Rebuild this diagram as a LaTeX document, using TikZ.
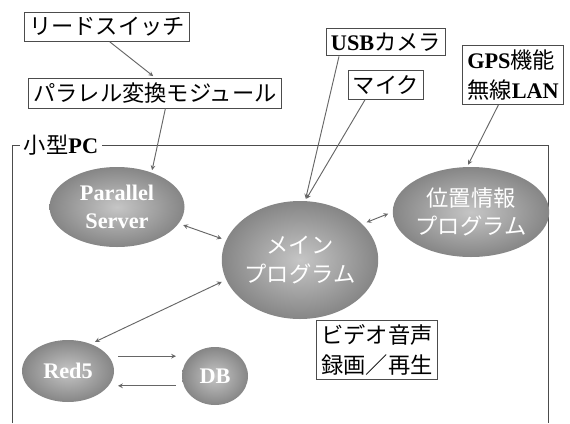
\documentclass[tikz,border=0pt]{standalone}
\usepackage{fontspec}
\setmainfont{Liberation Serif}
\newfontfamily\jp[BoldFont={Noto Sans CJK JP}]{Noto Sans CJK JP}
\usetikzlibrary{shapes.geometric}
\begin{document}
\begin{tikzpicture}
[x=0.03cm,y=-0.03cm,
  boxdecorate/.style={draw=black!70,line width=0.8pt,inner sep=4pt,align=left,%
    font=\fontsize{19}{25}\selectfont\bfseries},%
  balldecorate/.style={ellipse,inner sep=0pt,shading=radial,inner color=gray!45,%
    outer color=gray!95,text=white,align=center,font=\fontsize{19}{24}\selectfont\bfseries},%
  linedecorate/.style={-stealth,draw=black!60,line width=0.8pt,shorten >=2pt},%
  bothdecorate/.style={stealth-stealth,draw=black!60,line width=0.8pt,shorten >=4pt,shorten <=4pt}]
\useasboundingbox (0,0) rectangle (570,423);
%% frame of the small PC
\draw[draw=black!70,line width=0.8pt] (12,423) -- (12,145) -- (548,145) -- (548,423);
\node (pcname) at (61,145) [fill=white,inner sep=3pt,font=\fontsize{19}{25}\selectfont\bfseries] {{\jp 小型}PC};
%% boxes
\foreach \nodename/\x/\y/\text in {reed/107/27/{\jp リードスイッチ},
  conv/155/93/{\jp パラレル変換モジュール}, usbcam/386/42/{USB{\jp カメラ}},
  mic/386/85/{\jp マイク}, gps/513/75/{GPS{\jp 機能}\\{\jp 無線}LAN},
  video/377/350/{{\jp ビデオ音声}\\{\jp 録画／再生}}}
{
  \node (\nodename) at (\x,\y) [boxdecorate] {\text};
}
%% programs
\foreach \nodename/\x/\y/\ew/\eh/\text in {parallel/117/207/135/80/{Parallel\\Server},
  mainprog/300/260/155/118/{{\jp メイン}\\{\jp プログラム}},
  position/471/212/143/90/{{\jp 位置情報}\\{\jp プログラム}},
  red5/68/371/92/62/{Red5}, db/215/376/66/58/{DB}}
{
  \node (\nodename) at (\x,\y) [balldecorate,minimum width=\ew*0.03cm,minimum height=\eh*0.03cm] {\text};
}
%% connectors
\path
\foreach \startnode/\endnode/\kind in {reed.-80/conv.north/linedecorate,
  conv.-56/parallel.45/linedecorate, usbcam.197/mainprog.85/linedecorate,
  mic.215/mainprog.85/linedecorate, gps.244/position.95/linedecorate,
  parallel.-15/mainprog.165/bothdecorate, mainprog.30/position.west/bothdecorate,
  mainprog.195/red5.50/bothdecorate}
{
  (\startnode) edge[\kind] (\endnode)
};
\draw[linedecorate,shorten <=8pt,shorten >=5pt] (red5.20) -- (red5.20 -| db.west);
\draw[linedecorate,shorten <=5pt,shorten >=8pt] (red5.-20 -| db.west) -- (red5.-20);
\end{tikzpicture}
\end{document}
